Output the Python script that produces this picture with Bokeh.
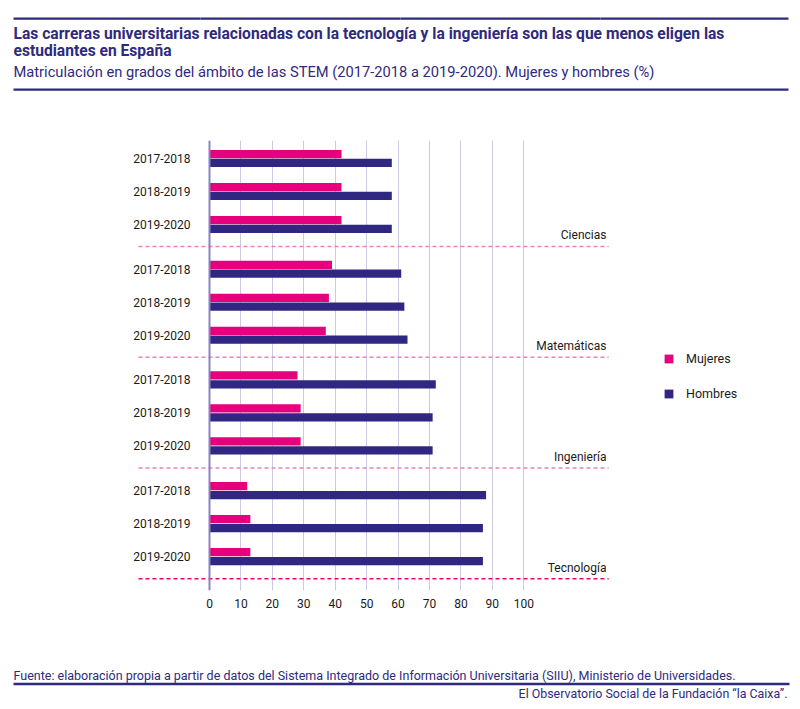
from bokeh.plotting import figure
from bokeh.models import Range1d, FixedTicker, Span, Legend, LegendItem, ColumnDataSource
from bokeh.layouts import column
from bokeh.embed import file_html
from bokeh.resources import INLINE
from bokeh.core.properties import value

# ---------------- data ----------------
areas = ["Ciencias", "Matemáticas", "Ingeniería", "Tecnología"]
cursos = ["2017-2018", "2018-2019", "2019-2020"]
mujeres = [42, 42, 42, 39, 38, 37, 28, 29, 29, 12, 13, 13]
hombres = [58, 58, 58, 61, 62, 63, 72, 71, 71, 88, 87, 87]
x_ticks = [0, 10, 20, 30, 40, 50, 60, 70, 80, 90, 100]

title_lines = ["Las carreras universitarias relacionadas con la tecnología y la ingeniería son las que menos eligen las",
               "estudiantes en España"]
subtitle = "Matriculación en grados del ámbito de las STEM (2017-2018 a 2019-2020). Mujeres y hombres (%)"
source_txt = "Fuente: elaboración propia a partir de datos del Sistema Integrado de Información Universitaria (SIIU), Ministerio de Universidades."
credit_txt = "El Observatorio Social de la Fundación “la Caixa”."

# ---------------- style ----------------
NAVY = "#2e2a7e"
PINK = "#e6007e"
BLUE = "#2f2782"
GRID = "#cdc9e3"
ZERO = "#8a84bd"
DASH_LIGHT = "#f07fba"
FONT = value("Roboto")
W = 792


def blank(height):
    f = figure(width=W, height=height, x_range=Range1d(0, W), y_range=Range1d(height, 0),
               toolbar_location=None, output_backend="svg", min_border=0,
               x_axis_location=None, y_axis_location=None, outline_line_color=None)
    f.grid.visible = False
    return f


# ---------------- header ----------------
H1 = 100
hdr = blank(H1)
hdr.text(x=[13, 13], y=[33.5, 50], text=title_lines, text_font=FONT, text_font_style="bold",
         text_font_size="15.6px", text_baseline="middle", text_color=NAVY)
hdr.text(x=[13], y=[71.5], text=[subtitle], text_font=FONT, text_font_size="14.7px",
         text_baseline="middle", text_color=NAVY)
# rules (top rule drawn in contiguous pieces, then the rule under the subtitle)
hdr.quad(left=[13, 200, 400, 600, 13], right=[200, 400, 600, 788, 788],
         top=[17, 17, 17, 17, 88], bottom=[19.2, 19.2, 19.2, 19.2, 90.2],
         fill_color=NAVY, line_color=None)

# ---------------- main chart ----------------
STEP = 3.355
BAR_H = 0.25
OFF = 0.135
row_y, row_lab, m_vals, h_vals = [], [], [], []
k = 0
for g, a in enumerate(areas):
    for i, c in enumerate(cursos):
        row_y.append(g * STEP + i)
        row_lab.append(c)
        m_vals.append(mujeres[k])
        h_vals.append(hombres[k])
        k += 1

src = ColumnDataSource(dict(
    ym=[y - OFF for y in row_y], yh=[y + OFF for y in row_y],
    mujeres=m_vals, hombres=h_vals, y=row_y, lab=row_lab))

p = figure(width=W, height=555, x_range=Range1d(-66.5, 185.5), y_range=Range1d(13.09, -0.545),
           toolbar_location=None, output_backend="svg", y_axis_location=None,
           min_border_left=0, min_border_right=0, min_border_top=40, min_border_bottom=65,
           outline_line_color=None)
p.ygrid.visible = False
p.xaxis.ticker = FixedTicker(ticks=x_ticks)
p.xgrid.ticker = FixedTicker(ticks=x_ticks)
p.xgrid.grid_line_color = GRID
p.xgrid.grid_line_width = 1
p.xaxis.axis_line_color = None
p.xaxis.major_tick_line_color = None
p.xaxis.minor_tick_line_color = None
p.xaxis.major_tick_out = 0
p.xaxis.major_tick_in = 0
p.xaxis.major_label_standoff = 8
p.xaxis.major_label_text_font = "Roboto"
p.xaxis.major_label_text_font_size = "12px"
p.xaxis.major_label_text_color = "#1a1a1a"

p.add_layout(Span(location=0, dimension="height", line_color=ZERO, line_width=2))

r_m = p.hbar(y="ym", left=0, right="mujeres", height=BAR_H, source=src, fill_color=PINK, line_color=None)
r_h = p.hbar(y="yh", left=0, right="hombres", height=BAR_H, source=src, fill_color=BLUE, line_color=None)

p.text(x=-6.05, y="y", text="lab", source=src, text_align="right", text_baseline="middle",
       text_font=FONT, text_font_size="12px", text_color="#1a1a1a")

cat_y = [g * STEP + 2.33 for g in range(len(areas))]
p.text(x=[126.3] * len(areas), y=cat_y, text=areas, text_align="right", text_baseline="middle",
       text_font=FONT, text_font_size="12px", text_color="#1a1a1a")

sep_y = [g * STEP + 2.67 for g in range(len(areas))]
p.segment(x0=[-22.6] * 3, x1=[127] * 3, y0=sep_y[:3], y1=sep_y[:3],
          line_color=DASH_LIGHT, line_width=1.5, line_dash="4 3")
p.segment(x0=[-22.6], x1=[127], y0=sep_y[3:], y1=sep_y[3:],
          line_color=PINK, line_width=1.5, line_dash="4 3")

legend = Legend(items=[LegendItem(label="Mujeres", renderers=[r_m]),
                       LegendItem(label="Hombres", renderers=[r_h])],
                location=(663, 189), glyph_width=11, glyph_height=11, label_standoff=12,
                spacing=20, padding=0, margin=0, border_line_color=None,
                background_fill_alpha=0, label_text_font="Roboto", label_text_font_size="12.5px",
                label_height=11, label_text_color="#1a1a1a")
p.add_layout(legend)

# ---------------- footer ----------------
H3 = 46
ftr = blank(H3)
ftr.text(x=[13], y=[20], text=[source_txt], text_font=FONT, text_font_size="12.5px",
         text_baseline="middle", text_color=NAVY)
ftr.text(x=[787], y=[38], text=[credit_txt], text_font=FONT, text_font_size="12.4px",
         text_baseline="middle", text_align="right", text_color=NAVY)
ftr.quad(left=[13], right=[789], top=[27.3], bottom=[29.7], fill_color=NAVY, line_color=None)

layout = column(hdr, p, ftr, spacing=0)
open("out.html", "w").write(file_html(layout, INLINE))
